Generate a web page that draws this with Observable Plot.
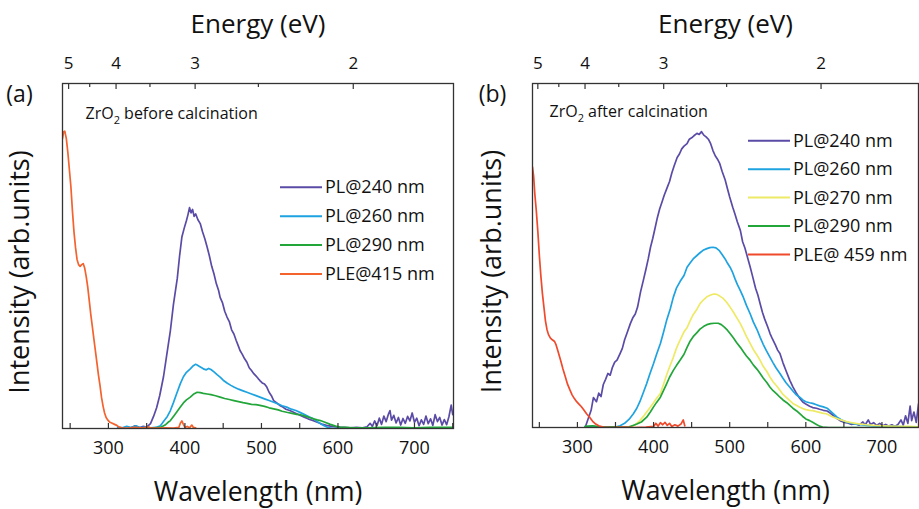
<!DOCTYPE html>
<html><head><meta charset="utf-8">
<script src="https://cdn.jsdelivr.net/npm/d3@7"></script>
<script src="https://cdn.jsdelivr.net/npm/@observablehq/plot@0.6"></script>
<style>
html,body{margin:0;padding:0;background:#fff;}
#wrap{display:flex;width:919px;height:509px;overflow:hidden;}
</style></head><body><div id="wrap"></div>
<script>
// ---------- tick labels ----------
const wavelengthTicks = [250,300,350,400,450,500,550,600,650,700,750];
const wavelengthLabels = [300,400,500,600,700];
const energyMajor = [5,4,3,2];
const energyMinor = [4.5,3.5,2.5];

// ---------- panel (a): ZrO2 before calcination ----------
const aPL240 = [[330,0.3],[335,0.8],[340,0.2],[345,0.6],[350,0.4],[355,1.4],[359,3.5],[363,6],[367,9.5],[372,15],[376,21],[381,28.4],[385,36],[390,43.5],[393,50],[396,55.5],[399,58],[402,60.3],[404,62],[406,64],[408,62.5],[410,63.5],[412,61.5],[414,62.2],[417,60.5],[420,59.4],[423,57],[426,55],[429,52.6],[432,50],[435,47],[438,44.8],[441,42],[444,40],[446,38],[449,36.5],[452,34],[455,32.3],[458,31],[461,28.6],[464,27.4],[467,25.5],[470,23.8],[472,22.6],[475,21.5],[478,20.2],[481,19.2],[484,17.6],[487,16.8],[490,15.9],[493,15.2],[496,14.4],[498,13.9],[501,13.2],[504,12.9],[507,12],[510,10.5],[513,9.5],[516,8.1],[520,7.4],[524,6.7],[528,6.2],[532,5.6],[537,5.2],[542,4.7],[546,4.3],[551,3.8],[556,3.3],[561,2.8],[567,2.3],[573,1.8],[579,1.3],[585,0.9],[592,0.6],[600,0.4],[608,0.3],[616,0.2],[624,0.3],[632,0.2],[638,0.5],[642,1.5],[645,0.6],[648,2.2],[651,0.8],[654,3.0],[657,1.2],[660,3.6],[663,2.0],[666,4.2],[668,5.2],[670,2.4],[673,3.8],[676,1.6],[679,3.2],[682,1.0],[685,2.9],[688,1.5],[691,3.5],[694,2.2],[697,4.5],[700,1.8],[703,3.0],[706,0.8],[709,2.5],[712,1.2],[715,3.6],[718,1.4],[721,2.8],[724,0.9],[727,4.0],[730,2.0],[733,3.2],[736,1.0],[739,2.6],[742,1.1],[745,3.4],[748,6.8],[750,4.0]];
const aPL260 = [[312,0.4],[318,0.2],[324,0.6],[330,0.3],[336,0.8],[342,0.2],[348,0.4],[355,0.2],[362,0.3],[368,0.8],[372,2],[377,3.5],[381,5.2],[385,7.5],[389,10],[394,13],[398,15],[402,16.3],[407,17.3],[411,18.2],[414,18.6],[416,18.4],[419,18],[422,17.6],[425,17.2],[428,17],[431,17.4],[434,17.1],[438,16.4],[442,15.6],[446,14.9],[450,14],[455,13.2],[460,12.5],[464,12],[470,11.4],[476,10.9],[481,10.5],[487,10],[492,9.6],[498,9.1],[504,8.6],[510,8.1],[516,7.6],[522,7.1],[527,6.6],[533,6.2],[539,5.6],[545,5.2],[551,4.6],[557,4],[562,3.4],[568,2.8],[573,2],[577,1.4],[582,0.8],[587,0.3],[594,0],[610,0.2],[630,0.1],[650,0.2],[680,0.1],[710,0.2],[750,0.2]];
const aPL290 = [[340,0.2],[350,0.1],[360,0.2],[368,0.3],[374,1],[378,1.8],[381,2.3],[386,3.8],[390,5],[394,6.2],[398,7.4],[402,8.3],[407,9.1],[411,9.9],[416,10.5],[420,10.4],[424,10.2],[429,10],[434,9.8],[440,9.5],[446,9.1],[452,8.7],[458,8.4],[464,8.1],[470,7.8],[476,7.5],[481,7.3],[487,7],[493,6.9],[498,6.7],[504,6.4],[510,6],[516,5.7],[522,5.4],[527,5],[533,4.7],[540,4.4],[546,4.1],[551,4],[557,3.6],[563,3.2],[568,2.8],[573,2.5],[577,2.3],[583,1.8],[590,1.2],[597,0.7],[603,0.4],[610,0.3],[620,0.2],[640,0.2],[660,0.3],[680,0.3],[700,0.2],[720,0.3],[750,0.3]];
const aPLE415 = [[240,84],[241.5,86],[243,86.2],[245,84],[247,80],[249,75],[251,70],[253,63],[255,57],[257,52.5],[259,49],[261,47.5],[263,47],[265,47.5],[267,47.8],[269,46.5],[271,44],[273,41],[275,37],[277,33],[279,29.5],[281,26],[283,22.5],[285,19],[287,15.5],[289,12.5],[291,9],[293,6.5],[295,4.5],[297,3.2],[299,2.5],[302,1.8],[305,1.5],[308,1.2],[311,0.9],[314,0.4],[318,0.2],[325,0.1],[335,0.3],[345,0.1],[352,0.5],[356,0.1],[365,0.1],[375,0.2],[385,0.1],[392,0.3],[394,1.5],[396,2.2],[398,1.2],[400,0.3],[403,0.6],[406,0.2],[409,1.0],[411,0.3],[414,0.2]];

// ---------- panel (b): ZrO2 after calcination ----------
const bPL240 = [[311,0.5],[314,2.5],[318,5],[321,8.7],[325,7.5],[328,10],[331,9],[334,12.5],[337,14],[340,15.7],[343,15.2],[346,17.5],[349,19],[352,19.6],[356,21.5],[359,23],[362,25.5],[366,28],[369.5,30.2],[373,32],[376,33],[379,35],[383,39.5],[386.5,42.7],[390,46],[393,49],[396,52.4],[399,55],[402,58],[405,61],[408,63.5],[411,65.5],[414,67.5],[418,69.8],[421,71.5],[424,74],[427,76],[431,78.5],[434,79.5],[437,81],[440,81.8],[444,82.5],[447,83.8],[450,84.2],[453,84.8],[457,85.5],[460,85.2],[463,86],[466,85],[469,84.5],[472,83.8],[475,82.5],[478,80.5],[481,79],[484,78],[487,76.7],[490,74.5],[494,72],[497,69.5],[500,67],[504,64],[507,62],[510,59.8],[514,57.3],[517,54],[520,52.2],[524,49],[527,46.6],[530,44],[534,40.5],[537,38.5],[540,36],[543,33.5],[546,31.5],[550,29.2],[553,27.3],[556,25.8],[560,24],[563,22.5],[566,21.5],[570,18.8],[574,16.5],[579,13.7],[583,11.8],[587,10.2],[592,8.5],[596,7.4],[600,6.8],[605,6.2],[609,5.8],[614,5.6],[618,5.3],[623,5],[628,4.8],[632,4.2],[636,3.5],[641,2.6],[645,2.0],[650,1.5],[655,1.3],[660,0.9],[665,1.1],[670,0.7],[675,1.6],[678,0.8],[682,2.2],[685,0.9],[689,1.4],[693,0.6],[697,1.2],[701,0.5],[705,0.9],[709,0.4],[713,0.8],[717,0.3],[721,0.9],[725,2.2],[728,0.7],[731,3.4],[734,1.2],[737,6.2],[739,2.0],[742,4.5],[745,1.5],[748,6.8],[750,3.0]];
const bPL260 = [[310,0.2],[320,0.3],[330,0.1],[340,0.2],[350,0.1],[356,0.5],[362,1.2],[368,2.4],[373.5,4],[378,5.6],[382,7.5],[386,9.8],[391,12.8],[395,15.5],[400,18.6],[404,21.3],[409,24.4],[413,27.6],[417,31],[422,34.5],[426,37.9],[430,40.5],[435,42.5],[440,44.2],[444,46.6],[448,47.8],[452,49],[457,50],[461,50.8],[465,51.5],[470,52],[474,52.3],[478,52.4],[482,52.2],[486,51.5],[490,50.3],[494,49],[497,47.8],[500.5,46.6],[504,45],[507,43.2],[510,41.6],[514,39.8],[518,37.8],[522,35.5],[527,33],[531,30.7],[536,28.4],[540,26.2],[544,24.2],[548,22.4],[553,20.4],[557,18.8],[561,17.3],[566,15.7],[570,14.3],[574,13],[579,11.7],[583,10.6],[587,9.6],[592,8.8],[596,8],[600,7.5],[605,7.2],[609,7],[614,6.6],[618,6.3],[623,6],[628,5.6],[632,4.8],[636,4],[641,3],[646,2.3],[652,1.7],[658,1.3],[665,1],[672,0.8],[680,0.6],[690,0.5],[700,0.4],[715,0.3],[730,0.2],[750,0.2]];
const bPL270 = [[360,0],[370,0.2],[376,0.8],[382,2],[388,3.6],[394,5.4],[400,7.2],[404,8.5],[409,9.9],[413,12.5],[417,15.2],[421,17.6],[426,20.4],[430,23],[435,25.5],[440,27.8],[444,29],[448,31],[452,32.8],[457,34.4],[461,36],[466,37.2],[470,38],[475,38.5],[479,38.8],[483,38.7],[487,38.2],[491,37.6],[496,36.4],[500.5,35],[505,33.5],[509,32],[514,30.2],[518,28.4],[522,26.5],[527,24.4],[531,22.7],[536,21],[540,19.5],[544,17.8],[549,16.2],[553,14.6],[557,13.3],[562,12],[566,10.8],[570,9.6],[575,8.6],[579,7.8],[583,7],[588,6.4],[592,5.9],[596,5.5],[600,5.2],[605,5],[609,4.9],[614,4.6],[618,4.4],[623,4.1],[627,4],[632,3.4],[636,3],[640,2.7],[646,2.2],[652,1.8],[658,1.5],[665,1.2],[672,1],[680,0.8],[690,0.6],[700,0.5],[710,0.4],[720,0.3],[735,0.3],[750,0.2]];
const bPL290 = [[310,0.3],[320,0.5],[330,0.2],[340,0.1],[350,0.2],[360,0.1],[368,0.2],[373,0.6],[378,1],[384,1.6],[391,3],[396,4.6],[400,6],[404,7.3],[409,8.8],[413,10.7],[417,12.6],[421,14.6],[426,16.6],[430,18],[435,19.6],[440,21.3],[444,23.3],[448,25.1],[452,26.4],[457,27.6],[461,28.6],[466,29.4],[470,29.9],[475,30.2],[480,30.3],[485,30.3],[489,29.9],[493,29.2],[497,28.3],[500.5,27.3],[505,26],[509,24.7],[514,23.3],[518,22],[522,20.8],[527,19.5],[531,18.2],[536,16.9],[540,15.7],[544,14.4],[549,13],[553,11.7],[557,10.7],[562,9.7],[566,8.8],[570,8],[575,7.2],[579,6.4],[583,5.6],[588,4.8],[592,4],[596,3.2],[600,2.5],[605,2],[609,1.5],[614,0.9],[618,0.4],[622,0.1],[630,0],[650,0],[680,0],[720,0],[750,0]];
const bPLE459 = [[241,75.7],[242.5,73],[244,68],[246,63],[248,57],[250,50],[252,44],[254,39],[256,35],[258,31],[260,28.5],[262,27],[264.6,26],[267,25.5],[270,25],[272,24],[274,22.5],[276,21],[278,19.5],[281,17],[284,14.8],[287,12.6],[290,11],[293,9.5],[296,8.4],[299,7.5],[302,6.8],[305,6.1],[308,5.2],[312,4],[316,3],[320,1.8],[324,1],[328,0.5],[334,0.1],[345,0],[360,0.1],[375,0],[390,0.1],[400,0.3],[403,1.2],[406,0.4],[409,1.4],[412,0.8],[415,1.5],[418,0.6],[421,1.2],[424,0.3],[428,0.8],[432,0.4],[436,1.0],[439,2.2],[441,0.5]];

const legendA = ["PL@240 nm","PL@260 nm","PL@290 nm","PLE@415 nm"];
const legendB = ["PL@240 nm","PL@260 nm","PL@270 nm","PL@290 nm","PLE@ 459 nm"];

const C = {purple:"#5b4ba6", blue:"#1ea3e0", yellow:"#eeea66", green:"#22a63a", orange:"#f4622e", red:"#ef4a2c"};

const panels = [
  {tag:"(a)", tagDx:-43, note:["ZrO","2"," before calcination"], noteDx:23, noteDy:35,
   domain:[240,751], width:460, marginLeft:62, marginRight:7, marginBottom:81, ylabDx:-42,
   series:[[aPL240,C.purple],[aPL260,C.blue],[aPL290,C.green],[aPLE415,C.orange]],
   legend:legendA, legendColors:[C.purple,C.blue,C.green,C.orange], legX:280, legY:187.3, legStep:28.9},
  {tag:"(b)", tagDx:-40, note:["ZrO","2"," after calcination"], noteDx:17, noteDy:33,
   domain:[241,748], width:459, marginLeft:72, marginRight:1, marginBottom:82, ylabDx:-40,
   series:[[bPL240,C.purple],[bPL260,C.blue],[bPL270,C.yellow],[bPL290,C.green],[bPLE459,C.red]],
   legend:legendB, legendColors:[C.purple,C.blue,C.yellow,C.green,C.red], legX:288, legY:140.8, legStep:28.4}
];

const H = 509, MT = 83;
const wrap = document.getElementById("wrap");

for (const p of panels) {
  const innerH = H - MT - p.marginBottom;
  const noteFull = p.note.join("");
  const marks = [];
  for (const [data, color] of p.series) {
    marks.push(Plot.line(data, {x: d => d[0], y: d => d[1], stroke: color, strokeWidth: 1.7, clip: true}));
  }
  marks.push(
    Plot.tickX(wavelengthTicks, {x: d => d, insetTop: innerH - 5, stroke: "#333", strokeWidth: 1.2}),
    Plot.tickX(energyMajor, {x: e => 1240 / e, insetBottom: innerH - 6, stroke: "#333", strokeWidth: 1.2}),
    Plot.tickX(energyMinor, {x: e => 1240 / e, insetBottom: innerH - 4, stroke: "#333", strokeWidth: 1.2}),
    Plot.axisX({anchor: "bottom", ticks: wavelengthLabels, tickSize: 0, tickPadding: 13, fontSize: 18, label: null, tickFormat: d => String(d)}),
    Plot.axisX({anchor: "top", ticks: energyMajor.map(e => 1240 / e), tickSize: 0, tickPadding: 15, fontSize: 17, label: null, tickFormat: d => String(Math.round(1240 / d))}),
    Plot.frame({stroke: "#333", strokeWidth: 1.3}),
    Plot.text(["Energy (eV)"], {frameAnchor: "top", dy: -51, lineAnchor: "bottom", fontSize: 26}),
    Plot.text(["Wavelength (nm)"], {frameAnchor: "bottom", dy: 72, lineAnchor: "bottom", fontSize: 26.5}),
    Plot.text(["Intensity (arb.units)"], {frameAnchor: "left", rotate: -90, textAnchor: "middle", dx: p.ylabDx, dy: 16, fontSize: 27}),
    Plot.text([p.tag], {frameAnchor: "top-left", dx: p.tagDx, dy: 18.5, lineAnchor: "bottom", textAnchor: "middle", fontSize: 23}),
    Plot.text([noteFull], {frameAnchor: "top-left", dx: p.noteDx, dy: p.noteDy, lineAnchor: "bottom", textAnchor: "start", fontSize: 16})
  );
  const svg = Plot.plot({
    width: p.width, height: H,
    marginTop: MT, marginBottom: p.marginBottom, marginLeft: p.marginLeft, marginRight: p.marginRight,
    x: {domain: p.domain, axis: null},
    y: {domain: [0, 100], axis: null},
    style: {fontFamily: "'Open Sans', sans-serif", color: "#111", background: "#fff", overflow: "visible"},
    marks
  });
  const ns = "http://www.w3.org/2000/svg";
  // subscript in the sample note
  svg.querySelectorAll("text").forEach(t => {
    if (t.textContent === noteFull) {
      t.textContent = "";
      const parts = [[p.note[0], null, null], [p.note[1], "11", "5"], [p.note[2], null, "-5"]];
      for (const [s, fs, dy] of parts) {
        const ts = document.createElementNS(ns, "tspan");
        ts.textContent = s;
        if (fs) ts.setAttribute("font-size", fs);
        if (dy) ts.setAttribute("dy", dy);
        t.appendChild(ts);
      }
    }
  });
  // legend
  const g = d3.select(svg).append("g").attr("font-family", "'Open Sans', sans-serif").attr("font-size", 18)
    .attr("fill", "#111").attr("text-anchor", "start");
  p.legend.forEach((label, i) => {
    const y = p.legY + i * p.legStep;
    g.append("line").attr("x1", p.legX).attr("x2", p.legX + 42).attr("y1", y).attr("y2", y)
      .attr("stroke", p.legendColors[i]).attr("stroke-width", 2);
    g.append("text").attr("x", p.legX + 45).attr("y", y).attr("dy", "0.34em").attr("text-anchor", "start").text(label);
  });
  wrap.appendChild(svg);
}
</script></body></html>
